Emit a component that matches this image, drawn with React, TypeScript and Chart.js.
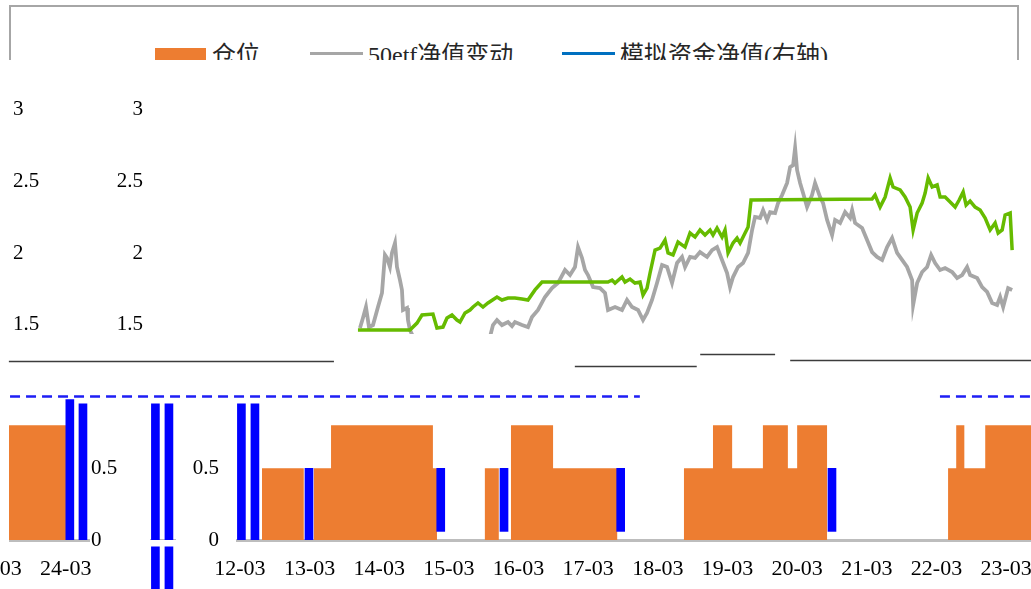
import React, { useEffect, useRef } from "react";
import { Chart, registerables } from "chart.js";

Chart.register(...registerables);

// ---------------- data (x = months since 2012-01, y = value) ----------------
const X_TICK_MONTHS = [2, 14, 26, 38, 50, 62, 74, 86, 98, 110, 122, 134, 146];
const X_TICK_LABELS = ["12-03", "13-03", "14-03", "15-03", "16-03", "17-03", "18-03", "19-03", "20-03", "21-03", "22-03", "23-03", "24-03"];
const X_MIN = 1.5;
const X_MAX = 150;
const Y_MAX = 3.25;
const Y_TICKS = [0, 0.5, 1.5, 2, 2.5, 3];

// position (仓位): [month where the level starts, level]
const POSITION_STEPS: [number, number][] = [
  [5.8, 0.5], [13.0, 0], [14.75, 0.5], [17.7, 0.8], [35.25, 0.5], [35.95, 0],
  [44.2, 0.5], [46.6, 0], [48.7, 0.8], [55.95, 0.5], [67.0, 0],
  [78.5, 0.5], [83.5, 0.8], [86.8, 0.5], [92.1, 0.8], [96.4, 0.5], [98.0, 0.8], [103.15, 0],
  [124.0, 0.5], [125.4, 0.8], [126.8, 0.5], [130.4, 0.8], [146.4, 0], [150, 0],
];

// blue signal bars: [month, low, high]
const SIGNAL_BARS: [number, number, number][] = [
  [2.26, 0, 0.95], [4.59, 0, 0.95], [13.9, 0, 0.5], [36.6, 0.06, 0.5], [47.5, 0.06, 0.5],
  [67.6, 0.06, 0.5], [104.0, 0.06, 0.5], [146.7, 0, 0.98], [148.96, 0, 0.95],
];

// 50etf净值变动
const ETF50_NAV: [number, number | null][] = [
  [35.78, 1.478], [36.29, 1.548], [36.81, 1.625], [37.33, 1.485], [38.02, 1.499], [38.88, 1.625],
  [39.57, 1.723], [40.08, 1.988], [40.43, 1.967], [40.94, 1.904], [41.29, 2.002], [41.81, 2.071],
  [42.15, 1.904], [42.67, 1.813], [43.01, 1.744], [43.19, 1.604], [43.88, 1.618], [44.05, 1.534],
  [44.39, 1.464], [44.9, 1.42], [50, null], [58.2, 1.42], [58.69, 1.499], [59.38, 1.534],
  [60.24, 1.499], [61.28, 1.52], [61.97, 1.492], [62.48, 1.52], [63.69, 1.499], [64.72, 1.485],
  [65.41, 1.555], [66.45, 1.604], [67.65, 1.695], [68.86, 1.757], [69.89, 1.792], [71.1, 1.883],
  [71.96, 1.848], [72.82, 1.904], [73.34, 2.043], [74.03, 1.967], [74.55, 1.883], [75.06, 1.848],
  [75.93, 1.764], [77.13, 1.757], [77.99, 1.723], [78.51, 1.604], [79.72, 1.625], [80.92, 1.604],
  [81.78, 1.674], [82.65, 1.625], [83.68, 1.604], [84.54, 1.534], [85.23, 1.583], [86.09, 1.674],
  [86.95, 1.792], [87.82, 1.918], [88.68, 1.904], [89.54, 1.792], [90.4, 1.932], [91.26, 1.974],
  [91.78, 1.904], [92.64, 1.974], [93.5, 1.967], [94.36, 2.008], [95.57, 1.974], [96.43, 2.022],
  [97.29, 2.043], [98.15, 1.953], [99.02, 1.862], [99.53, 1.764], [100.05, 1.834], [100.91, 1.904],
  [101.77, 1.932], [102.64, 2.002], [103.33, 2.162], [103.84, 2.253], [104.7, 2.246], [105.22, 2.301],
  [105.91, 2.232], [106.43, 2.287], [107.29, 2.28], [107.81, 2.35], [108.5, 2.406], [109.36, 2.49],
  [109.88, 2.601], [110.4, 2.615], [110.74, 2.734], [111.08, 2.58], [111.6, 2.49], [112.11, 2.42],
  [112.8, 2.322], [113.66, 2.406], [114.18, 2.49], [115.04, 2.392], [115.56, 2.35], [116.25, 2.232],
  [117.11, 2.127], [117.63, 2.232], [118.49, 2.211], [119.35, 2.287], [120.21, 2.246], [120.56, 2.301],
  [121.07, 2.211], [122.28, 2.176], [123.14, 2.092], [124.0, 2.008], [124.86, 1.974], [125.73, 1.953],
  [126.59, 2.043], [127.45, 2.106], [128.31, 2.002], [129.17, 1.953], [130.03, 1.904], [130.9, 1.813],
  [131.07, 1.639], [131.76, 1.792], [132.62, 1.869], [133.48, 1.904], [134.17, 1.988], [134.86, 1.932],
  [135.72, 1.883], [136.58, 1.897], [137.79, 1.869], [138.65, 1.827], [139.51, 1.848], [140.37, 1.904],
  [140.89, 1.848], [142.1, 1.827], [142.96, 1.764], [143.82, 1.73], [144.68, 1.653], [145.54, 1.639],
  [146.06, 1.695], [146.58, 1.625], [147.44, 1.757], [148.13, 1.744],
];

// 模拟资金净值(右轴)
const SIM_NAV: [number, number][] = [
  [35.43, 1.464], [44.39, 1.464], [45.6, 1.513], [46.46, 1.569], [48.35, 1.576], [49.04, 1.478],
  [50.08, 1.485], [50.77, 1.548], [51.63, 1.569], [52.49, 1.534], [53.01, 1.52], [53.87, 1.583],
  [54.73, 1.604], [55.25, 1.625], [56.11, 1.653], [56.97, 1.625], [57.83, 1.653], [59.38, 1.695],
  [60.24, 1.674], [61.28, 1.688], [62.48, 1.688], [63.69, 1.681], [64.72, 1.674], [65.93, 1.744],
  [67.14, 1.799], [78.51, 1.799], [79.2, 1.813], [79.72, 1.792], [80.92, 1.834], [81.44, 1.799],
  [82.3, 1.82], [83.16, 1.792], [84.02, 1.799], [84.54, 1.709], [85.23, 1.757], [85.75, 1.862],
  [86.61, 2.022], [87.47, 2.036], [88.33, 2.092], [88.85, 2.002], [89.71, 1.988], [90.57, 2.078],
  [91.78, 2.043], [92.64, 2.141], [93.5, 2.113], [94.36, 2.162], [95.22, 2.127], [96.09, 2.162],
  [96.6, 2.127], [97.29, 2.176], [98.15, 2.113], [98.67, 2.162], [99.19, 2.002], [100.05, 2.071],
  [100.74, 2.106], [101.26, 2.071], [102.12, 2.141], [102.64, 2.183], [103.15, 2.371], [124.0, 2.378],
  [124.52, 2.406], [125.38, 2.322], [126.25, 2.392], [127.11, 2.525], [127.62, 2.462], [128.83, 2.441],
  [129.69, 2.392], [130.55, 2.322], [131.07, 2.162], [131.76, 2.28], [132.62, 2.35], [133.14, 2.42],
  [133.66, 2.525], [134.35, 2.462], [135.21, 2.476], [135.72, 2.392], [136.58, 2.392], [137.45, 2.357],
  [138.31, 2.322], [139.0, 2.371], [139.69, 2.427], [140.2, 2.336], [140.89, 2.364], [141.75, 2.322],
  [142.61, 2.301], [143.48, 2.246], [144.34, 2.162], [145.2, 2.211], [145.72, 2.141], [146.41, 2.162],
  [146.92, 2.267], [147.79, 2.28], [148.13, 2.022],
];

// dashed reference level and its visible month ranges
const REF_LEVEL = 1;
const REF_SEGMENTS: [number, number][] = [[-37.6, 70.9], [122.6, 150]];
// broken axis-line shards in the damaged band: [month from, month to, level]
const AXIS_SHARDS: [number, number, number][] = [
  [-37.8, 18.2, 1.248], [59.7, 80.7, 1.213], [81.3, 94.2, 1.297], [96.8, 138.3, 1.255],
];

// ---------------- chart ----------------
const CW = 1160;
const CH = 589;
const SERIF = "'Liberation Serif', 'Times New Roman', serif";

const decorPlugin = {
  id: "decor",
  beforeDatasetsDraw(chart: any) {
    const { ctx, scales } = chart;
    const x = scales.x;
    const y = scales.y;
    ctx.save();
    ctx.strokeStyle = "#1E1EF5";
    ctx.lineWidth = 2.5;
    ctx.setLineDash([10, 6]);
    const ry = y.getPixelForValue(REF_LEVEL);
    for (const [a, b] of REF_SEGMENTS) {
      ctx.beginPath();
      ctx.moveTo(x.getPixelForValue(a), ry);
      ctx.lineTo(x.getPixelForValue(b), ry);
      ctx.stroke();
    }
    ctx.setLineDash([]);
    ctx.strokeStyle = "#3C3C3C";
    ctx.lineWidth = 1.5;
    for (const [a, b, v] of AXIS_SHARDS) {
      const yy = Math.round(y.getPixelForValue(v)) + 0.5;
      ctx.beginPath();
      ctx.moveTo(x.getPixelForValue(a), yy);
      ctx.lineTo(x.getPixelForValue(b), yy);
      ctx.stroke();
    }
    ctx.restore();
  },
};

function buildConfig(): any {
  const yTicks = (s: any) => {
    s.ticks = Y_TICKS.map((v) => ({ value: v }));
  };
  return {
    type: "line",
    data: {
      datasets: [
        {
          type: "line",
          label: "模拟资金净值(右轴)",
          data: SIM_NAV.map(([x, y]) => ({ x, y })),
          yAxisID: "y2",
          borderColor: "#66BB00",
          borderWidth: 3.5,
          pointRadius: 0,
          tension: 0,
          order: 0,
        },
        {
          type: "line",
          label: "50etf净值变动",
          data: ETF50_NAV.map(([x, y]) => ({ x, y })),
          yAxisID: "y",
          borderColor: "#A6A6A6",
          borderWidth: 3.8,
          pointRadius: 0,
          tension: 0,
          spanGaps: false,
          order: 1,
        },
        {
          type: "bar",
          label: "signal",
          data: SIGNAL_BARS.map(([x, lo, hi]) => ({ x, y: [lo, hi] })),
          yAxisID: "y",
          backgroundColor: "#0000FF",
          barThickness: 8,
          order: 2,
        },
        {
          type: "line",
          label: "仓位",
          data: POSITION_STEPS.map(([x, y]) => ({ x, y })),
          yAxisID: "y",
          stepped: "before",
          fill: "origin",
          backgroundColor: "#ED7D31",
          borderColor: "#ED7D31",
          borderWidth: 0,
          pointRadius: 0,
          order: 3,
        },
      ],
    },
    options: {
      responsive: false,
      animation: false,
      devicePixelRatio: 1,
      layout: { padding: { top: 74, left: 0, right: 0, bottom: 0 } },
      plugins: { legend: { display: false }, tooltip: { enabled: false } },
      scales: {
        x: {
          type: "linear",
          min: X_MIN,
          max: X_MAX,
          offset: false,
          grid: { display: false, drawTicks: false },
          border: { display: true, color: "#BDBDBD", width: 3 },
          ticks: {
            autoSkip: false,
            maxRotation: 0,
            padding: 16,
            color: "#000",
            font: { family: SERIF, size: 22 },
            callback: (v: number) => {
              const i = X_TICK_MONTHS.indexOf(v);
              return i >= 0 ? X_TICK_LABELS[i] : "";
            },
          },
          afterBuildTicks: (s: any) => {
            s.ticks = X_TICK_MONTHS.map((v) => ({ value: v }));
          },
          afterFit: (s: any) => {
            s.height = CH - 540;
          },
        },
        y: {
          position: "left",
          min: 0,
          max: Y_MAX,
          grid: { display: false, drawTicks: false },
          border: { display: false },
          ticks: { padding: 18, color: "#000", font: { family: SERIF, size: 21 } },
          afterBuildTicks: yTicks,
          afterFit: (s: any) => {
            s.width = 237;
          },
        },
        y2: {
          position: "right",
          min: 0,
          max: Y_MAX,
          grid: { display: false, drawTicks: false },
          border: { display: false },
          ticks: { padding: 2, color: "#000", font: { family: SERIF, size: 21 } },
          afterBuildTicks: yTicks,
          afterFit: (s: any) => {
            s.width = CW - 1099;
          },
        },
      },
    },
    plugins: [decorPlugin],
  };
}

type Clip = { x: number; y: number; w: number; h: number };

function ChartView({ dx, dy, clip }: { dx: number; dy: number; clip: Clip }) {
  const ref = useRef<HTMLCanvasElement>(null);
  useEffect(() => {
    const chart = new Chart(ref.current as HTMLCanvasElement, buildConfig());
    return () => chart.destroy();
  }, []);
  return (
    <div
      style={{
        position: "absolute",
        left: clip.x,
        top: clip.y,
        width: clip.w,
        height: clip.h,
        overflow: "hidden",
      }}
    >
      <canvas
        ref={ref}
        width={CW}
        height={CH}
        style={{ position: "absolute", left: dx - clip.x, top: dy - clip.y, width: CW, height: CH }}
      />
    </div>
  );
}

// the damaged picture: bands of the same chart, displaced
const VIEWS: { dx: number; dy: number; clip: Clip }[] = [
  { dx: -76, dy: 0, clip: { x: 100, y: 60, w: 920, h: 274 } },
  { dx: -1088, dy: 0, clip: { x: 5, y: 60, w: 95, h: 274 } },
  { dx: 0, dy: 0, clip: { x: 0, y: 340, w: 1031, h: 249 } },
  { dx: -1010, dy: 0, clip: { x: 9, y: 399, w: 116, h: 143 } },
  { dx: -1010, dy: 0, clip: { x: 0, y: 542, w: 125, h: 47 } },
  { dx: -86, dy: 0, clip: { x: 150, y: 399, w: 26, h: 141 } },
  { dx: -86, dy: 143, clip: { x: 150, y: 543, w: 26, h: 46 } },
];

const legendText: React.CSSProperties = {
  position: "absolute",
  top: 43,
  fontFamily: "'Liberation Serif', 'Noto Sans CJK SC', serif",
  fontSize: 24,
  lineHeight: "24px",
  color: "#262626",
  whiteSpace: "nowrap",
};

export default function App() {
  return (
    <div
      style={{
        position: "fixed",
        left: 0,
        top: 0,
        width: 1031,
        height: 589,
        background: "#fff",
        overflow: "hidden",
      }}
    >
      <div style={{ position: "absolute", left: 0, top: 0, width: 1031, height: 60, overflow: "hidden" }}>
        <div
          style={{
            position: "absolute",
            left: 9,
            top: 5,
            width: 1010,
            height: 100,
            border: "2px solid #A6A6A6",
            boxSizing: "border-box",
          }}
        />
        <div style={{ position: "absolute", left: 155, top: 48, width: 51, height: 14, background: "#ED7D31" }} />
        <span style={{ ...legendText, left: 212 }}>仓位</span>
        <div style={{ position: "absolute", left: 310, top: 52, width: 53, height: 3, background: "#A6A6A6" }} />
        <span style={{ ...legendText, left: 368 }}>50etf净值变动</span>
        <div style={{ position: "absolute", left: 562, top: 52, width: 53, height: 3, background: "#0070C0" }} />
        <span style={{ ...legendText, left: 620 }}>模拟资金净值(右轴)</span>
      </div>
      {VIEWS.map((v, i) => (
        <ChartView key={i} dx={v.dx} dy={v.dy} clip={v.clip} />
      ))}
    </div>
  );
}
